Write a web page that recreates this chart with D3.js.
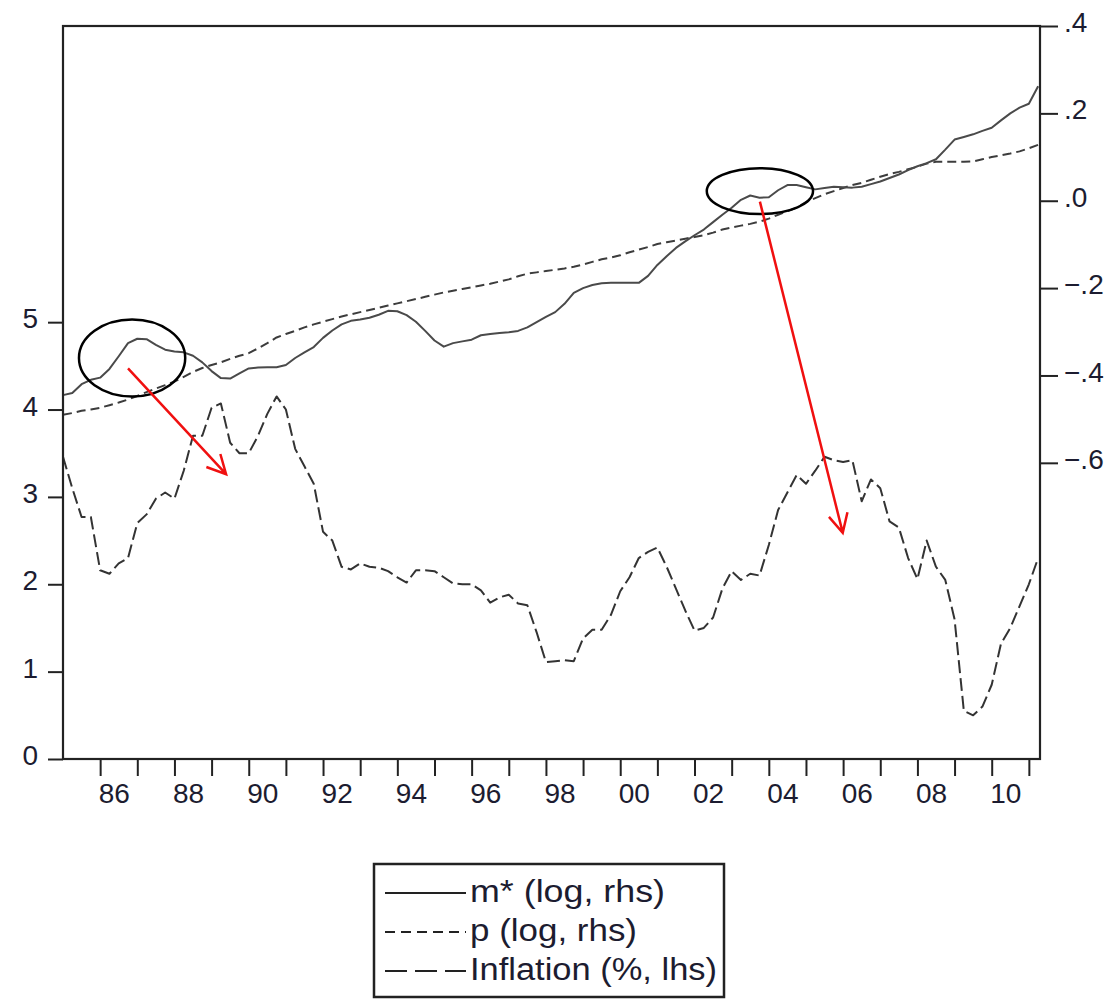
<!DOCTYPE html>
<meta charset="utf-8">
<style>
body { margin: 0; background: #fff; }
svg { display: block; }
.axis text { font-family: "Liberation Sans", Arial, sans-serif; font-size: 28px; fill: #1c1c30; }
.axis line { stroke: #222; stroke-width: 2px; }
.axis path { display: none; }
.series { fill: none; stroke-linejoin: round; stroke-width: 2px; }
.legend text { font-family: "Liberation Sans", Arial, sans-serif; font-size: 31px; fill: #1c1c30; }
</style>
<body>
<script src="https://cdn.jsdelivr.net/npm/d3@7"></script>
<script>
var width = 1113,
    height = 1001;

// quarterly, 1985Q1 .. 2011Q2
var startYear = 1985;

var inflation = [
  3.46, 3.1, 2.77, 2.77, 2.16, 2.12, 2.24, 2.3, 2.7, 2.8, 2.98, 3.05,
  2.98, 3.3, 3.7, 3.7, 4.02, 4.07, 3.62, 3.5, 3.5, 3.7, 3.95, 4.15,
  4.0, 3.55, 3.35, 3.15, 2.6, 2.5, 2.2, 2.17, 2.24, 2.2, 2.19, 2.15,
  2.08, 2.02, 2.16, 2.16, 2.15, 2.08, 2.01, 2.0, 2.0, 1.93, 1.79, 1.85,
  1.88, 1.78, 1.76, 1.45, 1.11, 1.12, 1.13, 1.12, 1.38, 1.48, 1.48, 1.65,
  1.92, 2.08, 2.3, 2.37, 2.42, 2.2, 1.95, 1.7, 1.47, 1.5, 1.62, 1.95,
  2.15, 2.05, 2.12, 2.1, 2.45, 2.85, 3.05, 3.25, 3.15, 3.3, 3.46, 3.42,
  3.4, 3.42, 2.95, 3.2, 3.1, 2.72, 2.65, 2.3, 2.06, 2.5, 2.2, 2.05,
  1.6, 0.55, 0.5, 0.6, 0.85, 1.32, 1.5, 1.75, 2.0, 2.3
];

var mstar = [
  -0.445, -0.44, -0.42, -0.41, -0.405, -0.385, -0.356, -0.326, -0.316, -0.317, -0.33, -0.341,
  -0.345, -0.347, -0.355, -0.37, -0.39, -0.406, -0.407, -0.395, -0.384, -0.382, -0.381, -0.381,
  -0.376, -0.36, -0.347, -0.335, -0.314, -0.297, -0.283, -0.275, -0.272, -0.268, -0.261, -0.252,
  -0.253, -0.262, -0.277, -0.298, -0.32, -0.334, -0.326, -0.322, -0.318, -0.308, -0.305, -0.303,
  -0.301, -0.298, -0.29, -0.278, -0.266, -0.255, -0.236, -0.211, -0.2, -0.193, -0.189, -0.188,
  -0.188, -0.188, -0.188, -0.172, -0.147, -0.127, -0.108, -0.093, -0.079, -0.066, -0.049, -0.032,
  -0.016, 0.002, 0.012, 0.007, 0.008, 0.024, 0.036, 0.036, 0.031, 0.026, 0.029, 0.032,
  0.031, 0.03, 0.032, 0.038, 0.044, 0.052, 0.06, 0.07, 0.079, 0.086, 0.095, 0.117,
  0.14, 0.146, 0.152, 0.16, 0.167, 0.184, 0.2, 0.213, 0.222, 0.262
];

var prices = [
  -0.49, -0.486, -0.481, -0.478, -0.474, -0.468, -0.462, -0.455, -0.447, -0.438, -0.43, -0.422,
  -0.414, -0.403, -0.392, -0.383, -0.376, -0.37, -0.362, -0.355, -0.349, -0.338, -0.326, -0.313,
  -0.305, -0.298, -0.29, -0.283, -0.277, -0.271, -0.265, -0.26, -0.255, -0.25, -0.245, -0.24,
  -0.235, -0.23, -0.225, -0.22, -0.215, -0.21, -0.206, -0.202, -0.198, -0.194, -0.19, -0.185,
  -0.18, -0.173, -0.167, -0.164, -0.161, -0.158, -0.155, -0.151, -0.146, -0.14, -0.134, -0.13,
  -0.125, -0.118, -0.112, -0.106, -0.099, -0.095, -0.091, -0.087, -0.083, -0.079, -0.073, -0.066,
  -0.061, -0.057, -0.053, -0.048, -0.041, -0.032, -0.024, -0.016, -0.003, 0.006, 0.015, 0.022,
  0.029, 0.036, 0.041, 0.048, 0.055, 0.061, 0.066, 0.072, 0.078, 0.085, 0.089, 0.089,
  0.089, 0.089, 0.09, 0.095, 0.1, 0.104, 0.108, 0.113, 0.12, 0.128
];

var leftTicks = [0, 1, 2, 3, 4, 5];
var rightTicks = [0.4, 0.2, 0, -0.2, -0.4, -0.6];
var yearTicks = d3.range(1986, 2012);
var yearLabels = d3.range(1986, 2011, 2);

var legendItems = [
  {label: "m* (log, rhs)", dash: null, len: 195},
  {label: "p (log, rhs)", dash: "10,6", len: 167},
  {label: "Inflation (%, lhs)", dash: "22,8", len: 247}
];

// annotations in data units (year, lhs value)
var circles = [
  {x: 1986.86, y: 4.59, rx: 1.43, ry: 0.44},
  {x: 2003.76, y: 6.5, rx: 1.43, ry: 0.263}
];
var arrows = [
  {x1: 1986.75, y1: 4.47, x2: 1989.39, y2: 3.26},
  {x1: 2003.76, y1: 6.38, x2: 2005.99, y2: 2.59}
];

var pLeft = 63, pRight = 1040, pTop = 26, pBottom = 759;

var x = d3.scaleLinear().domain([1985, 2011.3]).range([pLeft, pRight]);
var yL = d3.scaleLinear().domain([0, 8.39]).range([pBottom, pTop]);
var yR = d3.scaleLinear().domain([-1.278, 0.4]).range([pBottom, pTop]);

function date(i) { return startYear + i / 4; }

var svg = d3.select("body").append("svg")
    .attr("width", width)
    .attr("height", height);

// axes
svg.append("g")
    .attr("class", "axis")
    .attr("transform", "translate(" + pLeft + ",0)")
    .call(d3.axisLeft(yL).tickValues(leftTicks).tickSize(15).tickPadding(10).tickFormat(d3.format("d")))
  .selectAll("text").attr("dy", "0.2em");

svg.append("g")
    .attr("class", "axis")
    .attr("transform", "translate(" + pRight + ",0)")
    .call(d3.axisRight(yR).tickValues(rightTicks).tickSize(18).tickPadding(6)
      .tickFormat(function(d) { return Math.abs(d) < 1e-9 ? ".0" : d3.format(".1f")(d).replace("0.", "."); }))
  .selectAll("text").attr("dy", "0.2em");

var xa = svg.append("g")
    .attr("class", "axis")
    .attr("transform", "translate(0," + pBottom + ")")
    .call(d3.axisBottom(x).tickValues(yearTicks).tickSize(17).tickFormat(""));

xa.selectAll(".lab")
    .data(yearLabels)
  .enter().append("text")
    .attr("class", "lab")
    .attr("x", function(d) { return x(d + 0.38); })
    .attr("y", 44)
    .attr("text-anchor", "middle")
    .text(function(d) { return String(d).slice(2); });

// series
var lineL = d3.line().x(function(d, i) { return x(date(i)); }).y(function(d) { return yL(d); });
var lineR = d3.line().x(function(d, i) { return x(date(i)); }).y(function(d) { return yR(d); });

svg.append("path").datum(prices).attr("class", "series")
    .attr("stroke", "#3c3c3c").attr("stroke-dasharray", "9,5").attr("d", lineR);
svg.append("path").datum(mstar).attr("class", "series")
    .attr("stroke", "#4a4a4a").attr("d", lineR);
svg.append("path").datum(inflation).attr("class", "series")
    .attr("stroke", "#333").attr("stroke-dasharray", "13,5").attr("d", lineL);

// frame
svg.append("rect")
    .attr("x", pLeft).attr("y", pTop)
    .attr("width", pRight - pLeft).attr("height", pBottom - pTop)
    .attr("fill", "none").attr("stroke", "#222").attr("stroke-width", 2.2);

// annotations
svg.selectAll(".circ")
    .data(circles)
  .enter().append("ellipse")
    .attr("cx", function(d) { return x(d.x); })
    .attr("cy", function(d) { return yL(d.y); })
    .attr("rx", function(d) { return x(d.x + d.rx) - x(d.x); })
    .attr("ry", function(d) { return yL(0) - yL(d.ry); })
    .attr("fill", "none").attr("stroke", "#000").attr("stroke-width", 2.5);

svg.selectAll(".arrow")
    .data(arrows)
  .enter().append("path")
    .attr("fill", "none").attr("stroke", "#f01010").attr("stroke-width", 2.5)
    .attr("d", function(d) {
      var x1 = x(d.x1), y1 = yL(d.y1), x2 = x(d.x2), y2 = yL(d.y2),
          a = Math.atan2(y1 - y2, x1 - x2), h = 21, s = 27 * Math.PI / 180;
      return "M" + x1 + "," + y1 + "L" + x2 + "," + y2 +
        "M" + (x2 + h * Math.cos(a - s)) + "," + (y2 + h * Math.sin(a - s)) +
        "L" + x2 + "," + y2 +
        "L" + (x2 + h * Math.cos(a + s)) + "," + (y2 + h * Math.sin(a + s));
    });

// legend
var lg = svg.append("g").attr("class", "legend");
lg.append("rect")
    .attr("x", 374).attr("y", 864).attr("width", 350).attr("height", 133)
    .attr("fill", "#fff").attr("stroke", "#222").attr("stroke-width", 2.5);

var row = lg.selectAll(".row")
    .data(legendItems)
  .enter().append("g")
    .attr("transform", function(d, i) { return "translate(0," + (902 + i * 39) + ")"; });

row.append("line")
    .attr("x1", 385).attr("x2", 466).attr("y1", -9).attr("y2", -9)
    .attr("stroke", "#222").attr("stroke-width", 2.2)
    .attr("stroke-dasharray", function(d) { return d.dash; });

row.append("text")
    .attr("x", 470)
    .attr("textLength", function(d) { return d.len; })
    .attr("lengthAdjust", "spacingAndGlyphs")
    .text(function(d) { return d.label; });
</script>
